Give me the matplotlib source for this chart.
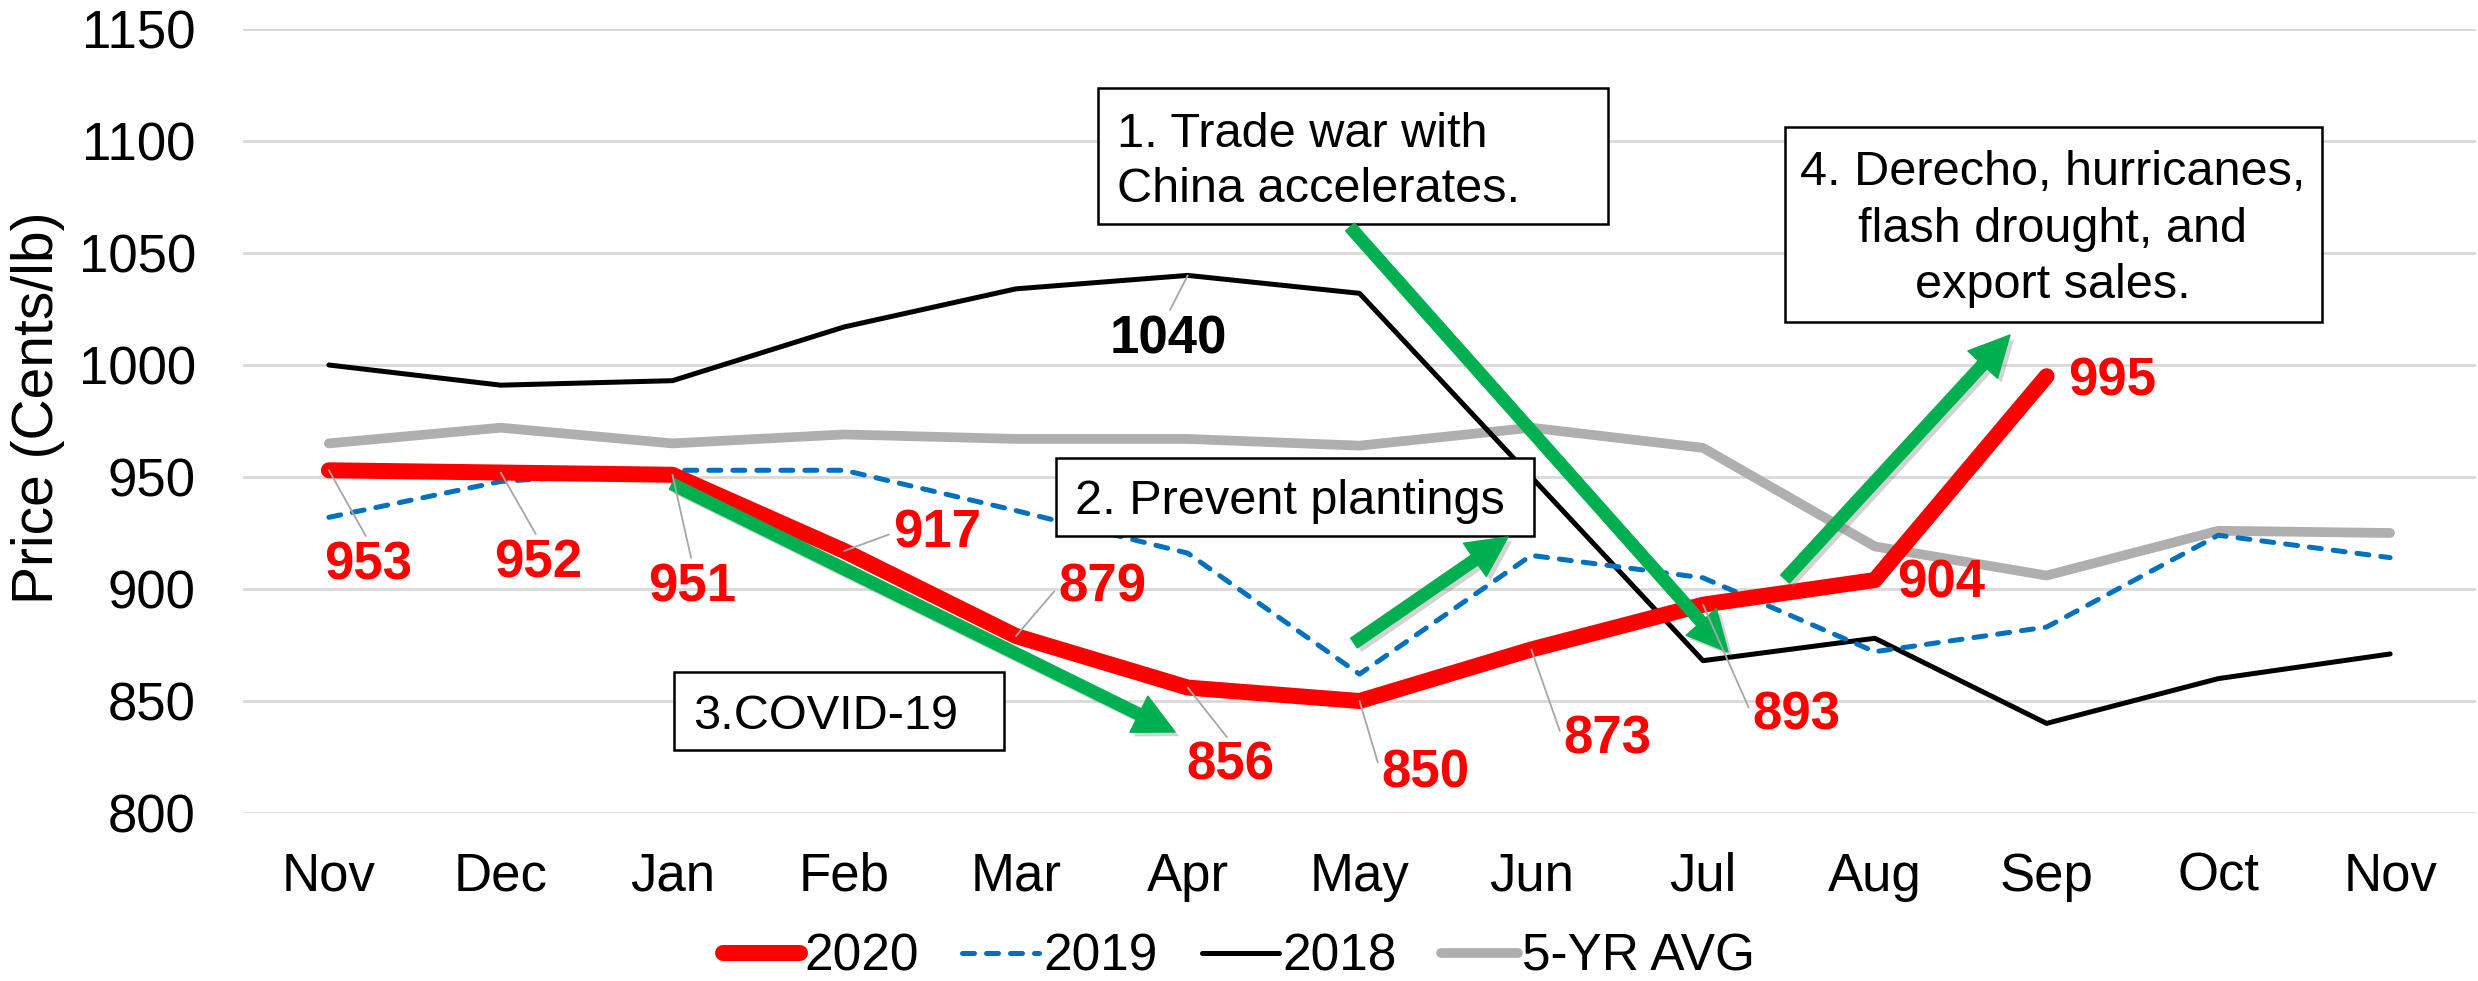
import matplotlib
matplotlib.use("Agg")
import matplotlib.pyplot as plt
from matplotlib.patches import Rectangle, FancyArrowPatch
from matplotlib.transforms import Affine2D
import matplotlib.patheffects as pe

plt.rcParams['font.family'] = ['Liberation Sans', 'DejaVu Sans']

# ---------------- data ----------------
months = ['Nov', 'Dec', 'Jan', 'Feb', 'Mar', 'Apr', 'May', 'Jun', 'Jul', 'Aug', 'Sep', 'Oct', 'Nov']
y2020 = [953, 952, 951, 917, 879, 856, 850, 873, 893, 904, 995]
y2019 = [932, 948, 953, 953, 935, 916, 862, 915, 905, 872, 883, 924, 914]
y2018 = [1000, 991, 993, 1017, 1034, 1040, 1032, 950, 868, 878, 840, 860, 871]
y5yr = [965, 972, 965, 969, 967, 967, 964, 972, 963, 919, 906, 926, 925]
yticks = [800, 850, 900, 950, 1000, 1050, 1100, 1150]
series_names = ['2020', '2019', '2018', '5-YR AVG']
box_texts = [
    ['1. Trade war with', 'China accelerates.'],
    ['2. Prevent plantings'],
    ['3.COVID-19'],
    ['4. Derecho, hurricanes,', 'flash drought, and', 'export sales.'],
]

# ---------------- figure ----------------
W, H = 2478, 981
fig = plt.figure(figsize=(W / 100, H / 100), dpi=100)
P = Affine2D().scale(1 / W, -1 / H).translate(0, 1) + fig.transFigure  # reference pixel coords

ax = fig.add_axes([243 / W, 1 - 813 / H, 2233 / W, 784 / H])
x_all = list(range(len(months)))

RED, BLUE, GRAY, GREEN = '#FF0000', '#0070C0', '#AFAFAF', '#00B050'

ax.plot(x_all, y5yr, color=GRAY, lw=7, solid_capstyle='round', solid_joinstyle='round', zorder=2, label=series_names[3])
ax.plot(x_all, y2018, color='black', lw=3.6, solid_capstyle='round', zorder=3, label=series_names[2])
ax.plot(x_all, y2019, color=BLUE, lw=3.6, ls=(0, (2.4, 2.4)), dash_capstyle='round', zorder=3, label=series_names[1])
ax.plot(x_all[:len(y2020)], y2020, color=RED, lw=11.5, solid_capstyle='round', solid_joinstyle='round', zorder=4, label=series_names[0])

ax.set_xlim(-0.5, len(months) - 0.5)
ax.set_ylim(800, 1150)
ax.set_yticks(yticks)
ax.set_xticks(x_all)
ax.set_xticklabels(months)
ax.tick_params(axis='both', length=0, labelsize=38)
ax.tick_params(axis='y', pad=34)
ax.tick_params(axis='x', pad=28)
ax.grid(axis='y', color='#D9D9D9', lw=2)
ax.set_axisbelow(True)
for s in ax.spines.values():
    s.set_visible(False)

fig.text(38 / W, 1 - 408 / H, 'Price (Cents/lb)', rotation=90, fontsize=41, ha='center', va='center')

# ---------------- data labels ----------------
# (text centre x, baseline y) in reference pixels, and leader anchor on label
label_pos = [(368, 579, (0.5, 1)), (538, 577, (0.5, 1)), (692, 601, (0.5, 1)), (937, 547, (0, 0.5)),
             (1102, 601, (0, 0.5)), (1230, 780, (0.5, 1)), (1425, 787, (0, 0.5)), (1607, 754, (0, 0.5)),
             (1796, 729, (0, 0.5)), (1941, 598, None), (2112, 395, None)]
for i, (v, (lx, ly, rel)) in enumerate(zip(y2020, label_pos)):
    kw = {}
    if rel is not None:
        kw['arrowprops'] = dict(arrowstyle='-', color='#A6A6A6', lw=1.3, shrinkA=1, shrinkB=0, relpos=rel)
    ax.annotate(str(v), xy=(i, v), xytext=(lx, ly), textcoords=P, ha='center', va='baseline',
                fontsize=38, fontweight='bold', color=RED, zorder=8, annotation_clip=False, **kw)

imax = y2018.index(max(y2018[:6]))
ax.annotate(str(y2018[imax]), xy=(imax, y2018[imax]), xytext=(1168, 353), textcoords=P, ha='center',
            va='baseline', fontsize=38, fontweight='bold', color='black', zorder=8,
            arrowprops=dict(arrowstyle='-', color='#A6A6A6', lw=1.3, shrinkA=1, shrinkB=0, relpos=(0.5, 1)))

# ---------------- text boxes ----------------
boxes = [(1098, 88, 1608, 224), (1056, 458, 1534, 536), (674, 672, 1004, 750), (1785, 127, 2322, 322)]
text_layout = [('left', 1117, [147, 202]), ('left', 1075, [514]), ('left', 693, [729]),
               ('center', 2053, [185, 242, 298])]
for (x0, y0, x1, y1), lines, (ha, tx, bys) in zip(boxes, box_texts, text_layout):
    ax.add_patch(Rectangle((x0, y1), x1 - x0, y0 - y1, transform=P, facecolor='white',
                           edgecolor='black', lw=1.8, zorder=6, clip_on=False))
    for line, by in zip(lines, bys):
        ax.text(tx, by, line, transform=P, ha=ha, va='baseline', fontsize=35, zorder=7)

# ---------------- green arrows ----------------
arrows = [((1350, 227), (1728, 652)), ((1354, 643), (1508, 537)),
          ((672, 484), (1175, 732)), ((1785, 579), (2010, 335))]
for a, b in arrows:
    arr = FancyArrowPatch(a, b, transform=P, arrowstyle='simple,head_length=29,head_width=29,tail_width=8.5',
                          mutation_scale=1, color=GREEN, shrinkA=0, shrinkB=0, zorder=7, clip_on=False,
                          path_effects=[pe.SimplePatchShadow(offset=(3, -3), shadow_rgbFace='#808080', alpha=0.35),
                                        pe.Normal()])
    ax.add_patch(arr)

# ---------------- legend ----------------
h, l = ax.get_legend_handles_labels()
order = [3, 2, 1, 0]
fig.legend([h[k] for k in order], [l[k] for k in order], loc='center', bbox_to_anchor=(0.5, 1 - 957 / H),
           ncol=4, frameon=False, fontsize=37, handlelength=1.5, handletextpad=0.08, columnspacing=0.85,
           borderpad=0, borderaxespad=0)

fig.savefig('out.png', dpi=100)
